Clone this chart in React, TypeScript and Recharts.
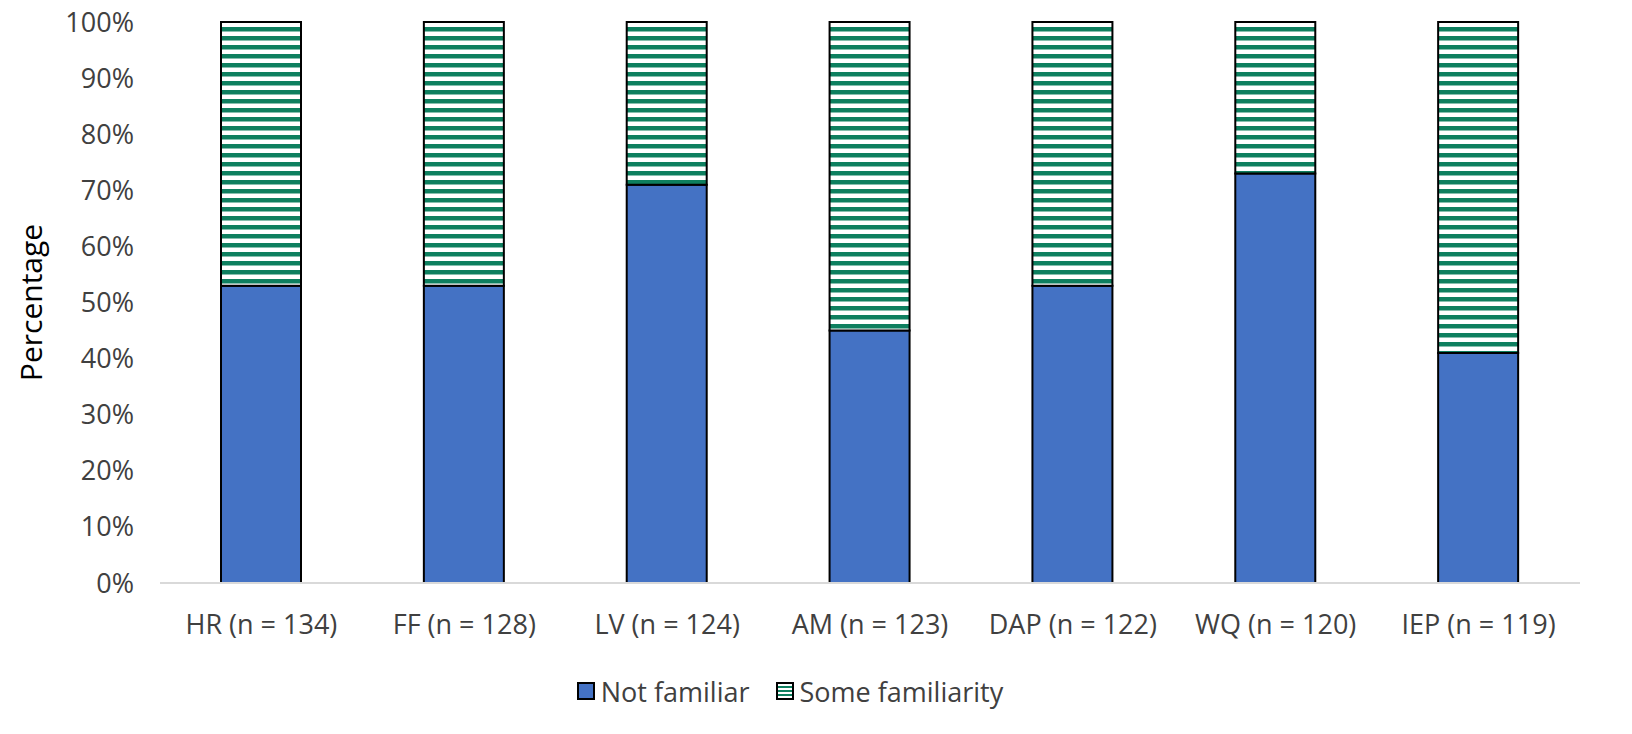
import React from "react";
import { BarChart, Bar, XAxis, YAxis, Legend } from "recharts";

const categories = ["HR (n = 134)", "FF (n = 128)", "LV (n = 124)", "AM (n = 123)", "DAP (n = 122)", "WQ (n = 120)", "IEP (n = 119)"];
const notFamiliar = [53, 53, 71, 45, 53, 73, 41];
const someFamiliarity = [47, 47, 29, 55, 47, 27, 59];
const yTicks = [0, 10, 20, 30, 40, 50, 60, 70, 80, 90, 100];

const data = categories.map((c, i) => ({ name: c, nf: notFamiliar[i], sf: someFamiliarity[i] }));

const BLUE = "#4472C4";
const GREEN = "#0E7F5F";
const FONT = "'Open Sans', sans-serif";

const LegendContent = () => (
  <div style={{ display: "flex", justifyContent: "center", alignItems: "center", paddingTop: 0, fontFamily: FONT, fontSize: 27, color: "#404040" }}>
    <svg width={19} height={19} style={{ marginRight: 5 }}>
      <rect x={1} y={1} width={16} height={16} fill={BLUE} stroke="#000" strokeWidth={2} />
    </svg>
    <span style={{ marginRight: 26 }}>Not familiar</span>
    <svg width={19} height={19} style={{ marginRight: 5 }}>
      <rect x={1} y={1} width={16} height={16} fill="url(#stripesLegend)" stroke="#000" strokeWidth={2} />
    </svg>
    <span>Some familiarity</span>
  </div>
);

export default function App() {
  return (
    <div style={{ position: "absolute", left: 0, top: 0, width: 1632, height: 734, background: "#fff" }}>
      <svg width={0} height={0} style={{ position: "absolute" }}>
        <defs>
          <pattern id="stripes" patternUnits="userSpaceOnUse" width={9} height={9}>
            <rect x={0} y={0} width={9} height={9} fill="#fff" />
            <rect x={0} y={0} width={9} height={4.5} fill={GREEN} />
          </pattern>
          <pattern id="stripesLegend" patternUnits="userSpaceOnUse" width={4} height={4}>
            <rect x={0} y={0} width={4} height={4} fill="#fff" />
            <rect x={0} y={0} width={4} height={2} fill={GREEN} />
          </pattern>
        </defs>
      </svg>
      <BarChart width={1632} height={734} data={data} margin={{ top: 22, right: 52, left: 0, bottom: 0 }} barCategoryGap={0}>
        <XAxis
          dataKey="name"
          tickLine={false}
          axisLine={{ stroke: "#D9D9D9", strokeWidth: 2 }}
          tick={{ fill: "#404040", fontSize: 27, fontFamily: FONT }}
          tickMargin={26}
          height={90}
          interval={0}
        />
        <YAxis
          domain={[0, 100]}
          ticks={yTicks}
          tickFormatter={(v: number) => `${v}%`}
          tickLine={false}
          axisLine={false}
          tick={{ fill: "#404040", fontSize: 27, fontFamily: FONT }}
          tickMargin={20}
          width={160}
          label={{ value: "Percentage", angle: -90, position: "insideLeft", dx: 26, style: { fill: "#000", fontSize: 30, fontFamily: FONT, textAnchor: "middle" } }}
        />
        <Legend verticalAlign="bottom" height={61} content={<LegendContent />} />
        <Bar dataKey="nf" stackId="a" fill={BLUE} stroke="#000" strokeWidth={2} barSize={80} isAnimationActive={false} />
        <Bar dataKey="sf" stackId="a" fill="url(#stripes)" stroke="#000" strokeWidth={2} barSize={80} isAnimationActive={false} />
      </BarChart>
    </div>
  );
}
